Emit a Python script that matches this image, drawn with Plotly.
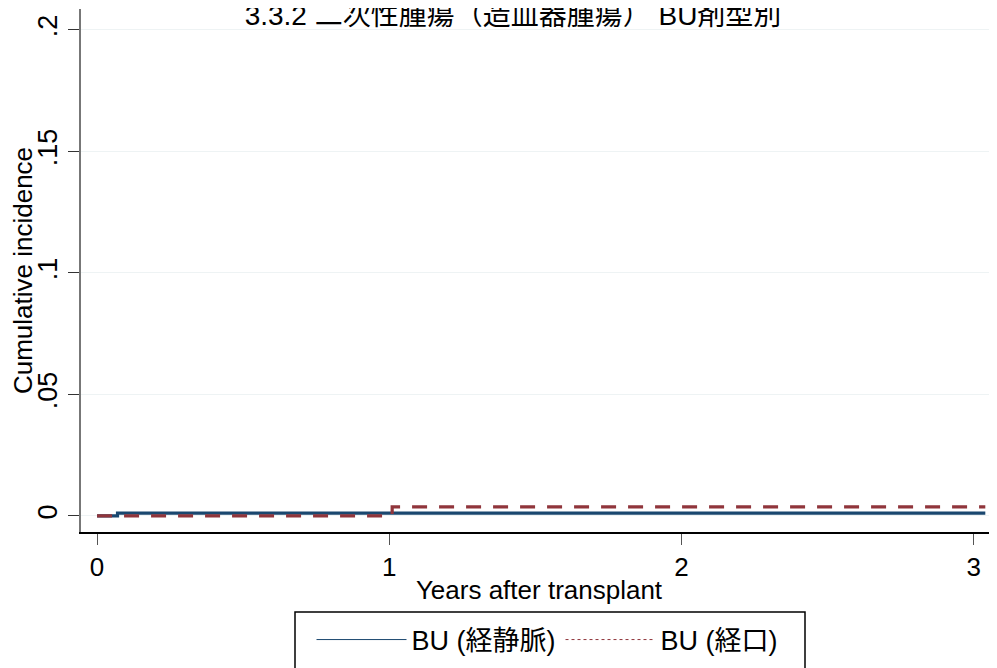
import plotly.graph_objects as go

# cumulative incidence step data
iv_years = [0, 0.07, 3.04]
iv_ci = [0, 0.0012, 0.0012]
oral_years = [0, 1.01, 3.04]
oral_ci = [0, 0.0037, 0.0037]

series_names = ["BU (経静脈)", "BU (経口)"]
x_ticks = [0, 1, 2, 3]
y_ticks = [0, 0.05, 0.1, 0.15, 0.2]
y_tick_text = ["0", ".05", ".1", ".15", ".2"]

blue = "#1a476f"
red = "#90353b"
font_fam = "Liberation Sans, Arial, Noto Sans CJK JP, sans-serif"

# the page body adds an 8px offset, so layout pixels are shifted back by 8
OFF = 8
L, R, T, B = 81 - OFF, 997 - OFF, 9 - OFF, 532 - OFF
PW, PH = R - L, B - T

fig = go.Figure()

fig.add_trace(go.Scatter(x=iv_years, y=iv_ci, mode="lines", line_shape="hv",
                         line=dict(color=blue, width=3.2), showlegend=False))
fig.add_trace(go.Scatter(x=oral_years, y=oral_ci, mode="lines", line_shape="hv",
                         line=dict(color=red, width=3.2, dash="15px,12px"), showlegend=False))

# thin legend samples, as in the original legend
fig.add_trace(go.Scatter(x=[None], y=[None], mode="lines", name=series_names[0],
                         line=dict(color=blue, width=1)))
fig.add_trace(go.Scatter(x=[None], y=[None], mode="lines", name=series_names[1],
                         line=dict(color=red, width=1, dash="dot")))

# legend frame (runs past the bottom edge as in the reference)
fig.add_shape(type="rect", xref="paper", yref="paper",
              x0=(295 - OFF - L) / PW, x1=(805 - OFF - L) / PW,
              y0=-0.35, y1=(B - (612 - OFF)) / PH,
              line=dict(color="black", width=1.5), fillcolor="rgba(0,0,0,0)")

fig.update_layout(
    width=997, height=668,
    margin=dict(l=L, r=997 - R, t=T, b=668 - B, autoexpand=False),
    paper_bgcolor="white", plot_bgcolor="white",
    font=dict(family=font_fam, size=22, color="black"),
    title=dict(text="3.3.2 二次性腫瘍（造血器腫瘍） BU剤型別", x=(513 - OFF) / 997, xanchor="center",
               y=1 - 7 / 668, yanchor="middle", font=dict(size=28)),
    legend=dict(orientation="h", x=(547 - OFF - L) / PW, xanchor="center",
                y=(B - (640 - OFF)) / PH, yanchor="middle",
                bgcolor="rgba(0,0,0,0)", borderwidth=0, itemwidth=90,
                font=dict(size=27)),
)

fig.update_xaxes(range=[-0.055, 3.08], tickvals=x_ticks, showgrid=False, zeroline=False,
                 showline=True, linecolor="black", linewidth=1.5, automargin=False,
                 ticks="outside", ticklen=11, tickcolor="#555", tickfont=dict(size=26),
                 title=dict(text="Years after transplant", standoff=0))
fig.update_yaxes(range=[-0.0066, 0.2086], tickvals=y_ticks, ticktext=y_tick_text,
                 tickangle=-90, showgrid=True, gridcolor="#eef3f4", gridwidth=1,
                 zeroline=False, showline=True, linecolor="#777", linewidth=1.5,
                 automargin=False, ticks="outside", ticklen=11, tickcolor="#333",
                 tickfont=dict(size=27),
                 title=dict(text="Cumulative incidence", standoff=6))

fig.write_html("out.html")
